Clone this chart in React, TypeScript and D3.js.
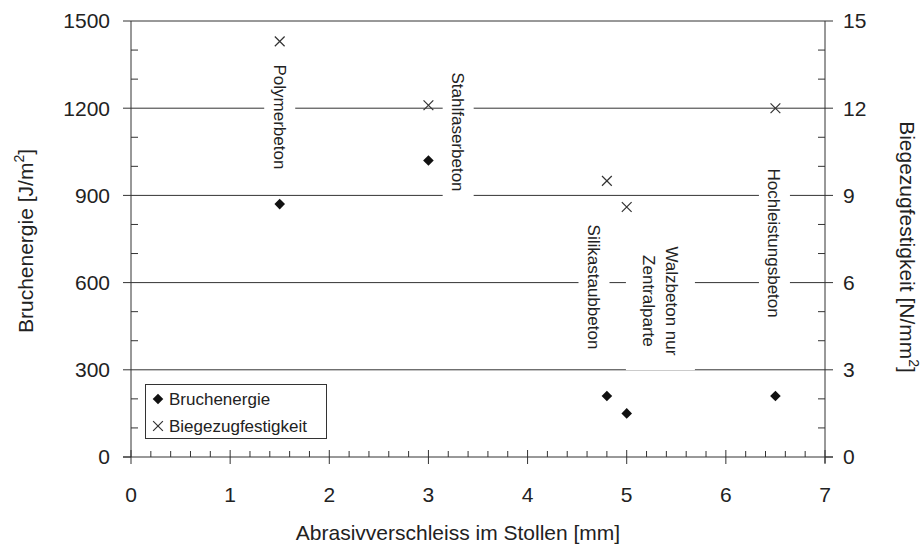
import { useEffect } from 'react';
import { scaleLinear, range, symbol, symbolSquare, symbolTimes } from 'd3';

// values
const materials = [
  'Polymerbeton',
  'Stahlfaserbeton',
  'Silikastaubbeton',
  'Walzbeton nur Zentralparte',
  'Hochleistungsbeton',
];
const abrasion = [1.5, 3.0, 4.8, 5.0, 6.5]; // mm
const fractureEnergy = [870, 1020, 210, 150, 210]; // J/m2
const flexuralStrength = [14.3, 12.1, 9.5, 8.6, 12.0]; // N/mm2

const xTicks = [0, 1, 2, 3, 4, 5, 6, 7];
const leftTicks = [0, 300, 600, 900, 1200, 1500];
const rightTicks = [0, 3, 6, 9, 12, 15];

// label anchors in data units (x in mm, y centre in J/m2)
const labelLines = [
  ['Polymerbeton'],
  ['Stahlfaserbeton'],
  ['Silikastaubbeton'],
  ['Walzbeton nur', 'Zentralparte'],
  ['Hochleistungsbeton'],
];
const labelX = [1.5, 3.3, 4.67, 5.34, 6.49];
const labelY = [1170, 1118, 585, 537, 736];
const labelPad = [4, 6, 4, 14, 4];

const W = 921;
const H = 546;
const margin = { left: 131, right: 96, top: 21, bottom: 89 };
const font = 'Liberation Sans, Arial, sans-serif';
const ink = '#222';

const App = () => {
  useEffect(() => {
    document.body.style.margin = '0';
  }, []);

  const x = scaleLinear().domain([0, 7]).range([margin.left, W - margin.right]);
  const yL = scaleLinear().domain([0, 1500]).range([H - margin.bottom, margin.top]);
  const yR = scaleLinear().domain([0, 15]).range([H - margin.bottom, margin.top]);

  const x0 = x(0);
  const x1 = x(7);
  const yb = yL(0);

  const diamond = symbol(symbolSquare, 56)()!;
  const cross = symbol(symbolTimes, 64)()!;

  const labelFs = 17;

  return (
    <svg width={W} height={H} style={{ display: 'block', background: '#fff' }} fontFamily={font}>
      {/* grid lines */}
      {leftTicks.filter((t) => t > 0).map((t) => (
        <line key={'g' + t} x1={x0} x2={x1} y1={yL(t)} y2={yL(t)} stroke="#333" strokeWidth={1} />
      ))}

      {/* label boxes cut the grid */}
      {labelLines.map((lines, i) => {
        const longest = Math.max(...lines.map((l) => l.length));
        const len = longest * 0.5 * labelFs + 2 * labelPad[i];
        const thick = 31 + (lines.length - 1) * 38;
        const cx = x(labelX[i]);
        const cy = yL(labelY[i]);
        return (
          <g key={'lab' + i}>
            <rect x={cx - thick / 2} y={cy - len / 2} width={thick} height={len} fill="#fff" />
            {lines.map((line, j) => {
              const off = (j - (lines.length - 1) / 2) * -23;
              return (
                <text
                  key={j}
                  transform={`translate(${cx + off},${cy}) rotate(90)`}
                  textAnchor="middle"
                  dy="0.35em"
                  fontSize={labelFs}
                  fill={ink}
                >
                  {line}
                </text>
              );
            })}
          </g>
        );
      })}

      {/* axes */}
      <line x1={x0} x2={x0} y1={margin.top} y2={yb} stroke="#333" />
      <line x1={x1} x2={x1} y1={margin.top} y2={yb + 6} stroke="#333" />
      <line x1={x0 - 8} x2={x1 + 8} y1={yb} y2={yb} stroke="#333" />

      {/* left ticks */}
      {range(0, 1501, 100).map((t) => {
        const major = t % 300 === 0;
        return (
          <line
            key={'lt' + t}
            x1={major ? x0 - 8 : x0}
            x2={major ? x0 : x0 + 7}
            y1={yL(t)}
            y2={yL(t)}
            stroke="#333"
          />
        );
      })}
      {leftTicks.map((t) => (
        <text key={'ll' + t} x={110} y={yL(t)} dy="0.35em" textAnchor="end" fontSize={21} fill={ink}>
          {t}
        </text>
      ))}

      {/* right ticks */}
      {range(0, 16, 1).map((t) => {
        const major = t % 3 === 0;
        return (
          <line
            key={'rt' + t}
            x1={major ? x1 : x1 - 7}
            x2={major ? x1 + 8 : x1}
            y1={yR(t)}
            y2={yR(t)}
            stroke="#333"
          />
        );
      })}
      {rightTicks.map((t) => (
        <text key={'rl' + t} x={843} y={yR(t)} dy="0.35em" textAnchor="start" fontSize={21} fill={ink}>
          {t}
        </text>
      ))}

      {/* bottom ticks */}
      {range(0, 36, 1).map((k) => {
        const t = k / 5;
        const major = k % 5 === 0;
        return (
          <line
            key={'bt' + k}
            x1={x(t)}
            x2={x(t)}
            y1={major ? yb - 7 : yb - 6}
            y2={major ? yb + 7 : yb}
            stroke="#333"
          />
        );
      })}
      {xTicks.map((t) => (
        <text key={'bl' + t} x={x(t)} y={502} textAnchor="middle" fontSize={21} fill={ink}>
          {t}
        </text>
      ))}

      {/* markers */}
      {materials.map((m, i) => (
        <g key={'m' + m}>
          <path
            d={cross}
            transform={`translate(${x(abrasion[i])},${yR(flexuralStrength[i])})`}
            fill="none"
            stroke="#333"
            strokeWidth={1.2}
          />
          <path
            d={diamond}
            transform={`translate(${x(abrasion[i])},${yL(fractureEnergy[i])}) rotate(45)`}
            fill="#111"
          />
        </g>
      ))}

      {/* legend */}
      <rect x={145.5} y={384.5} width={181} height={54} fill="#fff" stroke="#333" />
      <path d={diamond} transform="translate(158,399) rotate(45)" fill="#111" />
      <text x={169} y={405} fontSize={17} fill={ink}>Bruchenergie</text>
      <path d={cross} transform="translate(158,426)" fill="none" stroke="#333" strokeWidth={1.2} />
      <text x={169} y={432} fontSize={17} fill={ink}>Biegezugfestigkeit</text>

      {/* axis titles */}
      <text x={458} y={540} textAnchor="middle" fontSize={21} fill={ink}>
        Abrasivverschleiss im Stollen [mm]
      </text>
      <text transform="translate(33,241) rotate(-90)" textAnchor="middle" fontSize={21} fill={ink}>
        Bruchenergie [J/m
        <tspan dy={-9} fontSize={14}>2</tspan>
        <tspan dy={9}>]</tspan>
      </text>
      <text transform="translate(900,247) rotate(90)" textAnchor="middle" fontSize={21} fill={ink}>
        Biegezugfestigkeit [N/mm
        <tspan dy={-9} fontSize={14}>2</tspan>
        <tspan dy={9}>]</tspan>
      </text>
    </svg>
  );
};

export default App;
